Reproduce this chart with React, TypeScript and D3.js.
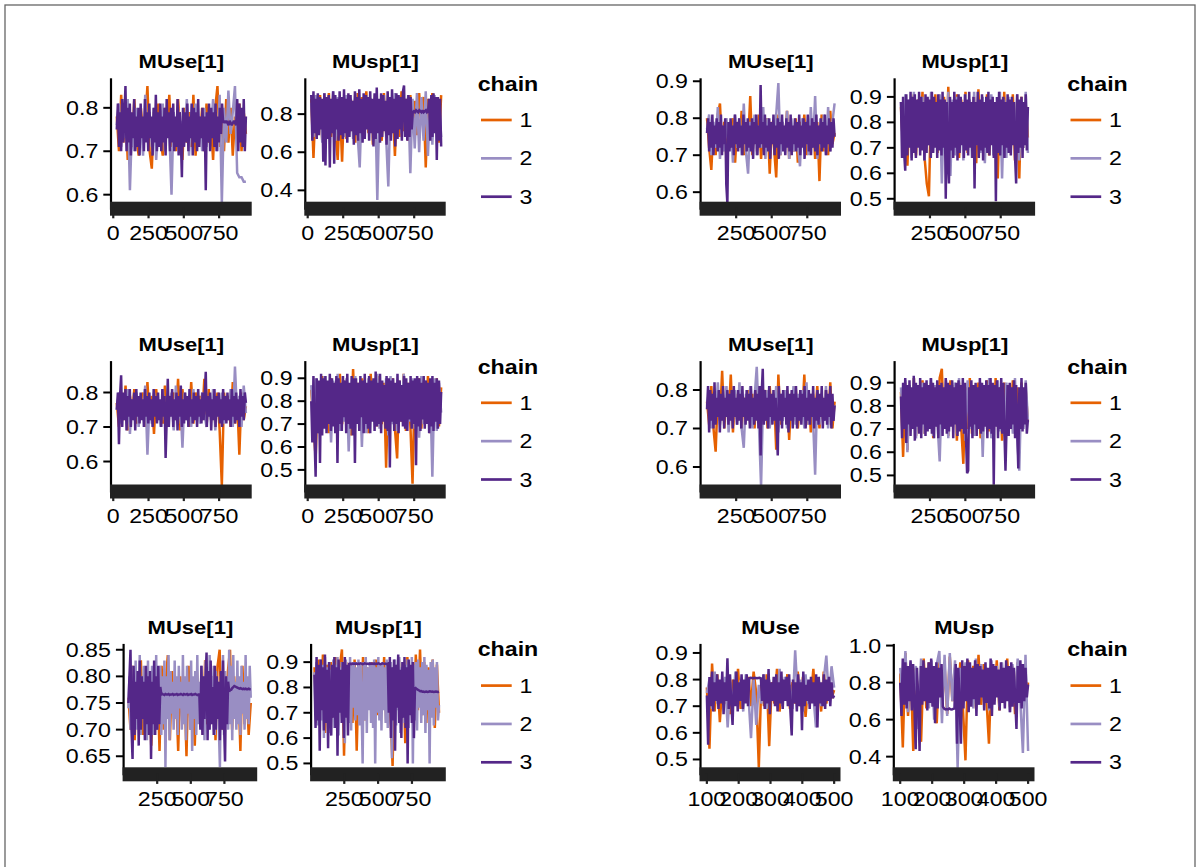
import React from "react";
import * as d3 from "d3";

// ---------------- DATA (trace values ×100) ----------------
const CHAINS = ["1", "2", "3"];
const CHAIN_COLORS = ["#E66101", "#998EC3", "#542788"];

// Group A (top-left)
const A_se_c1 = [78,70,83,72,80,68,79,71,82,73,69,80,74,77,85,70,66,79,72,81,73,69,80,75,83,71,78,70,82,74,68,80,72,79,71,83,69,78,73,80,70,81,72,77,68,80,85,71,79,70,82,72,80,69,78,73,81,70,79,74];
const A_se_c2 = [76,81,71,79,73,82,61,77,70,80,72,78,69,83,74,79,71,80,68,77,73,81,70,78,75,60,79,72,80,70,77,74,82,69,79,72,81,73,78,70,80,71,79,74,82,76,70,83,58,80,72,84,74,79,85,65,64,64,63,63];
const A_se_c3 = [75,81,71,79,70,82,72,78,85,70,80,72,81,69,79,73,82,70,78,71,80,69,81,73,78,70,82,72,79,70,81,73,78,69,80,72,83,70,79,71,81,70,78,72,80,69,82,73,79,70,80,72,81,70,78,71,82,69,79,73,64,80,71,79,72,81,70,78,73,81,69,80,72,79,70,82,71,78,73,80,70,78,61,79,72,81,70,80,73,79,71,81,70,78,72,80,74,81,76.5,77,76.5,77,76.5,76,77,76.5,76,76.5,77,76.5,76,82,70,81,72,80,71,82,70,78];
const A_sp_c1 = [88,57,86,70,90,66,88,74,91,68,89,72,56,85,55,88,67,90,71,87,65,91,73,89,68,92,70,88,64,90,74,87,66,91,70,89,72,86,58,90,68,92,71,88,66,90,73,87,69,91,75,89,52,88,68,91,72,86,65,90];
const A_sp_c2 = [86,68,90,72,88,65,91,70,87,74,92,66,89,71,86,68,90,73,88,67,91,70,52,87,69,90,72,88,66,89,35,86,71,90,68,42,88,73,91,67,89,70,86,72,90,49,88,62,91,60,89,66,92,58,88,64,90,70,87,68];
const A_sp_c3 = [90,66,92,70,88,67,91,69,89,72,88,55,91,53,89,67,90,52,88,70,92,54,90,72,88,66,92,69,89,67,93,70,88,65,91,68,90,71,87,64,92,69,89,66,93,70,88,65,91,67,90,72,89,66,92,70,88,63,91,67,94,70,88,65,91,68,90,71,87,64,92,69,89,66,93,70,88,63,91,67,90,72,89,66,92,95,68,88,66,90,68,89,72,81,81.5,81,82,81.5,81,82,81.5,81,82,81,81.5,82,81,81.5,88,66,90,68,91,70,89,56,89,66,88,63];

// Group B (top-right)
const B_se_c1 = [80,72,66,78,70,81,84,71,79,69,77,73,80,68,79,72,82,70,78,73,86,70,79,71,81,69,78,74,80,65,79,72,64,81,70,78,73,82,69,77,71,80,68,79,74,81,70,78,72,80,69,79,63,81,71,78,70,82,73,76];
const B_se_c2 = [77,81,70,79,72,83,69,78,71,80,73,79,68,81,72,80,70,84,71,65,79,73,81,70,78,72,83,69,80,71,77,73,81,89.5,70,79,72,82,69,80,71,78,73,67,80,71,79,70,83,72,86,69,78,72,81,70,83,71,79,84];
const B_se_c3 = [76,80,71,79,72,81,70,78,73,80,71,79,72,81,70,78,73,80,62,57,79,71,80,72,78,70,81,73,79,71,80,72,78,70,81,73,79,71,80,72,78,71,80,69,79,73,81,70,78,72,89,73,79,70,81,72,78,71,80,69,79,73,81,70,78,72,80,69,79,73,81,71,78,70,80,72,79,71,81,70,78,73,80,71,79,72,81,70,78,72,80,69,79,73,81,71,78,70,80,72,79,71,81,70,78,73,80,71,79,72,81,70,78,73,80,71,79,72,80,75];
const B_sp_c1 = [86,70,90,63,88,72,91,67,89,74,92,66,56,51,88,70,91,68,89,73,90,65,94,69,88,72,91,66,89,70,92,68,88,71,90,64,93,69,87,72,91,67,89,70,88,58,90,66,92,71,89,68,91,65,88,58,90,70,87,74];
const B_sp_c2 = [88,68,91,72,89,66,92,70,87,73,90,65,89,71,92,68,88,70,91,56,87,69,92,59,89,67,90,72,88,65,91,70,89,66,92,71,88,68,90,64,89,72,91,67,88,70,92,58,89,66,90,69,88,72,91,65,89,70,92,68];
const B_sp_c3 = [88,66,90,68,61,91,67,89,70,92,65,90,68,91,66,89,70,92,67,90,69,88,65,91,68,90,71,89,66,92,68,90,70,88,66,91,69,89,67,92,70,89,50,88,66,56,90,69,88,66,92,70,89,65,91,68,90,71,88,66,91,69,89,67,92,70,88,66,90,54,88,71,92,66,89,69,91,65,88,70,90,68,92,67,89,71,90,66,88,49,90,68,92,67,89,71,90,66,88,70,91,68,89,67,90,71,88,66,56,91,68,89,70,90,66,88,71,91,69,86];

// Group C (middle-left)
const C_se_c1 = [77,70,80,72,82,69,79,73,81,71,78,74,80,70,83,72,79,68,81,73,77,71,82,70,79,74,80,72,84,69,81,73,78,70,83,71,80,74,79,72,84,70,81,73,78,71,80,69,53,80,72,79,70,83,71,78,62,80,72,76];
const C_se_c2 = [75,80,71,79,73,81,68,78,72,80,70,79,73,82,62,78,71,80,74,77,70,81,72,79,73,80,69,82,71,78,64,80,72,79,70,81,73,78,71,80,74,70,79,72,81,69,78,73,80,71,79,72,81,70,87.5,73,79,70,82,74];
const C_se_c3 = [75,80,65,79,85,70,80,72,81,69,79,73,81,70,78,72,80,69,81,73,79,71,80,72,78,70,81,73,79,71,80,72,78,70,81,73,79,71,80,72,78,70,81,73,79,61,72,84,70,79,73,81,70,78,72,80,69,79,73,82,70,78,71,80,72,79,70,81,73,78,71,80,72,79,70,81,73,78,71,80,72,79,86,70,79,73,80,69,78,72,81,70,79,73,80,71,78,70,81,72,79,71,80,72,78,70,81,73,79,71,80,72,78,70,81,73,79,72,80,77];
const C_sp_c1 = [85,70,55,88,68,91,72,87,66,90,74,88,67,92,70,89,73,86,65,94,71,88,68,90,72,87,66,92,73,89,69,91,70,88,51,86,72,90,68,55,89,71,92,67,88,70,44,87,73,90,68,89,71,91,66,88,72,90,69,86];
const C_sp_c2 = [87,72,90,66,88,70,91,68,86,62,89,73,92,67,88,71,90,58,87,69,91,72,88,60,89,66,90,76,85,71,92,68,88,72,90,65,91,70,87,67,89,73,92,69,86,71,90,68,88,64,91,70,89,72,87,47,90,67,88,75];
const C_sp_c3 = [80,62,91,64,47,90,66,89,53,92,65,90,68,91,66,89,70,92,67,90,69,88,66,91,53,90,70,88,67,91,73,89,66,92,70,88,68,91,65,90,53,90,70,88,67,91,73,89,66,92,70,88,68,91,66,89,71,90,67,93,69,88,70,92,66,89,71,87,68,91,67,90,51,89,71,90,67,88,70,92,66,89,71,87,69,91,68,90,67,88,72,91,68,89,70,90,52,91,69,90,67,88,72,91,68,89,70,88,66,90,69,91,67,88,71,90,68,89,70,84];

// Group D (middle-right)
const D_se_c1 = [77,71,81,70,64,79,72,85,70,80,73,84,69,79,72,81,70,78,73,80,71,79,70,82,72,78,74,80,70,81,72,79,64.5,84,71,78,73,80,67,79,72,81,70,78,73,84,71,80,69,79,73,81,70,79,72,80,71,82,70,77];
const D_se_c2 = [76,80,70,79,72,82,71,78,73,81,69,79,72,80,71,82,70,65,79,73,81,70,78,86,71,55,79,72,80,70,78,73,81,69,79,72,80,70,78,73,81,71,79,72,80,70,82,71,79,73,58,80,71,79,72,81,70,78,73,76];
const D_se_c3 = [75,81,69,80,72,79,70,82,71,78,73,80,69,79,72,81,70,78,73,80,71,79,72,80,70,81,73,78,71,80,72,79,70,81,73,78,71,80,72,79,70,81,73,78,71,80,72,79,70,81,63,79,85.5,71,80,72,78,70,81,73,79,71,80,72,78,70,63,81,72,79,70,80,73,78,71,81,69,79,72,80,70,79,73,81,70,78,72,80,71,79,73,81,70,78,72,80,71,79,73,81,70,78,72,80,71,79,73,81,70,78,72,80,71,79,73,81,70,79,72,76];
const D_sp_c1 = [86,58,90,61,88,70,92,67,89,73,91,68,87,72,90,66,89,71,92,96,70,88,67,91,72,89,65,90,71,55,88,70,92,68,89,73,90,66,88,72,91,69,89,67,92,71,88,65,90,70,89,72,91,68,88,66,90,71,87,73];
const D_sp_c2 = [88,72,91,60,89,70,92,66,88,73,90,68,87,71,92,67,89,72,56,88,70,91,66,89,73,90,68,92,71,88,65,91,70,89,67,88,72,90,58,89,70,92,66,88,72,91,69,89,67,90,71,88,68,92,66,52,89,70,91,74];
const D_sp_c3 = [84,66,90,70,92,64,89,72,91,67,88,70,93,65,90,71,89,68,92,66,88,72,90,67,91,69,89,70,92,68,90,66,88,71,91,66,89,72,90,67,88,70,92,68,90,69,89,71,91,66,88,72,90,67,91,69,89,70,92,68,90,66,51,52,88,71,91,66,89,72,90,67,88,70,92,68,90,69,89,71,91,66,89,70,92,68,90,46,89,71,91,66,88,70,92,68,90,69,52,71,89,67,90,70,88,72,91,66,89,70,53,88,70,92,69,88,72,90,68,74];

// Group E (bottom-left)
const E_se_c1 = [76,70,82,68,80,72,83,69,79,71,81,67,78,73,80,66,82,70,79,84,68,81,72,77,66,80,71,79,65,82,70,78,67,81,73,79,69,83,71,78,72,80,68,82,85,70,79,72,81,85,70,80,73,79,66,82,71,78,69,75];
const E_se_c2 = [74,80,70,82,68,79,73,83,70,81,72,84,69,80,73,82,70,79,68,83,71,80,74,82,69,81,72,84,70,79,73,82,69,80,71,83,63,80,72,84,68,81,73,79,70,83,72,80,69,82,74,79,70,84,71,80,68,82,73,79,70,83,66,80,72,81,69,84,71,79,73,82,70,80,68,83,72,79,70,84,71,80,73,82,69,81,72,79,70,63,80,72,84,69,81,73,80,70,85,71,82,68,84,72,79,70,83,71,80,69,82,73,79,70,84,72,80,71,82,76];
const E_se_c3 = [75,80,85,70,64.5,82,69,79,72,81,67,83,70,80,72,79,68,82,71,80,69,81,64.5,79,71,83,69,80,70,82,71,78,76.6,76.7,76.6,76.5,76.7,76.6,76.6,76.7,76.5,76.6,76.6,76.7,76.5,76.6,76.6,76.7,76.5,76.6,76.6,76.7,76.6,76.5,76.7,76.6,76.6,76.7,76.5,76.6,76.6,76.7,76.5,76.6,76.6,76.7,76.6,76.5,76.6,76.6,70,82,69,80,72,79,84.5,68,81,70,83,71,78,69,82,70,80,72,79,68,81,70,83,71,64,80,71,79,77.2,77.4,77.5,77.8,78,78.2,78.1,78,77.9,77.8,77.7,77.8,77.7,77.6,77.7,77.6,77.7,77.6,77.6,77.7,77.6,77.6];
const E_sp_c1 = [88,66,91,70,93,62,89,72,90,68,92,64,88,95,53,90,71,87,66,91,55,89,70,92,67,88,72,90,65,91,69,87,73,92,66,89,70,49,88,72,91,68,89,58,92,70,88,67,93,71,95,69,90,66,88,72,91,64,89,70];
const E_sp_c2 = [86,70,90,65,88,73,91,67,89,60,92,71,88,66,90,62,87,72,91,64,89,68,92,61,88,71,90,67,89,58,91,70,88,66,92,63,89,72,90,67,88,69,91,65,89,72,50,90,67,92,62,88,71,90,66,89,64,91,50,88,70,92,67,89,63,90,71,88,66,91,64,89,72,90,52,88,68,91,65,89,71,92,62,88,69,90,66,89,73,91,64,88,70,92,50,89,67,90,63,91,72,88,66,90,69,92,62,89,71,87,50,90,68,91,65,88,72,90,67,73];
const E_sp_c3 = [85,64,92,67,89,55,91,71,88,63,93,66,87,56,90,70,61,89,68,92,64,88,53,91,70,87,66,90,60,92,68,89,61,89.3,89.4,89.2,89.5,89.3,89.4,89.3,89.5,89.2,89.4,89.3,89.5,89.4,89.2,89.3,89.5,89.4,89.3,89.4,89.2,89.5,89.3,89.4,89.3,89.5,89.2,89.4,89.3,89.5,89.4,89.2,89.3,89.5,89.4,89.3,89.4,89.2,89.4,70,92,60,88,67,91,55,89,72,93,66,87,60,90,68,92,64,88,50,91,69,89,66,90,60,80,79.6,79.3,79,78.8,78.5,78.6,78.3,78.4,78.2,78.3,78.4,78.2,78.3,78.5,78.4,78.3,78.4,78.2,78.3,78.4,78.3,78.2,78.3];

// Group F (bottom-right)
const F_se_c1 = [77,54,86,68,82,64,79,71,83,67,80,73,84,69,78,72,81,70,83,75,47,80,70,82,55,79,71,84,68,80,73,82,69,79,71,83,70,81,66,79,72,84,70,80,68,83,71,79,73,76];
const F_se_c2 = [75,80,69,83,71,78,73,81,62,79,70,83,72,80,68,82,74,58,80,63,78,71,82,69,80,73,79,71,84,70,81,72,78,69,91,73,80,68,82,71,79,74,62,81,70,80,89,72,85,77];
const F_se_c3 = [74,55.5,81,70,83,68,79,72,82,69,80,71,83,67,79,72,88,69,82,71,63,80,70,83,68,79,72,82,69,80,71,82,70,80.5,80.7,80.6,80.5,80.7,80.6,80.5,80.6,80.7,80.5,72,82,69,80,71,84,67,79,72,81,70,82,68,79,71,83,69,80,72,81,70,82,68,59,80,71,79,68,82,70,79,61,83,70,78,72,80,69,81,71,79,70,82,62,81,71,79,70,82,69,80,72,81,70,79,73,74];
const F_sp_c1 = [85,45,96,62,90,43,88,70,48,93,66,91,72,87,58,92,68,89,63,94,70,88,65,91,67,38,92,70,89,66,95,68,90,72,47,89,70,92,65,88,71,93,67,89,63,91,69,88,72,80];
const F_sp_c2 = [88,70,97,64,91,68,89,55,93,71,87,66,92,60,90,97,58,95,62,96,70,92,34,88,69,91,72,87,66,93,68,90,71,88,65,92,70,89,67,91,72,88,64,90,69,93,71,42,95,43];
const F_sp_c3 = [80,62,93,68,91,66,89,70,92,65,90,67,44,88,71,43,89,68,92,70,88,65,91,69,93,67,89,58,91,66,88,72,90,67,66,65.5,65.7,65.5,66,65.6,65.5,65.8,66,90,47,88,69,47,92,66,89,70,93,64,91,67,88,71,92,62,90,68,89,72,87,65,91,69,88,66,93,62,90,68,89,72,87,65,91,69,88,66,92,70,89,64,91,67,88,71,55,89,69,92,66,90,70,88,72,79];

// iteration ranges of the traces
const ITER_A = [25, 940];
const ITER_B = [45, 942];
const ITER_E1 = [36, 946];
const ITER_E2 = [30, 950];
const ITER_F = [100, 500];

// tick values
const X_TICKS_0 = [0, 250, 500, 750];
const X_TICKS_250 = [250, 500, 750];
const X_TICKS_F = [100, 200, 300, 400, 500];
const Y_T_678 = [0.6, 0.7, 0.8];
const Y_T_468 = [0.4, 0.6, 0.8];
const Y_T_6789 = [0.6, 0.7, 0.8, 0.9];
const Y_T_56789 = [0.5, 0.6, 0.7, 0.8, 0.9];
const Y_T_E1 = [0.65, 0.7, 0.75, 0.8, 0.85];
const Y_T_F2 = [0.4, 0.6, 0.8, 1.0];

// ---------------- LAYOUT ----------------
const W = 1199;
const H = 867;
const SX = 1.19; // horizontal stretch of glyphs in the reference
const ROW_DY = 282.8;
const COL_DX = 589.5;
const FONT = "'Liberation Sans', Arial, Helvetica, sans-serif";
const TRACE_W = 2.5;

type PanelSpec = {
  title: string;
  x0: number;
  x1: number;
  xDomain: [number, number];
  yDomain: [number, number];
  xTicks: number[];
  yTicks: number[];
  yFmt: string;
  iter: number[];
  chains: number[][];
};

type GroupSpec = { col: number; row: number; panels: PanelSpec[] };

const GROUPS: GroupSpec[] = [
  {
    col: 0, row: 0,
    panels: [
      { title: "MUse[1]", x0: 111, x1: 251.7, xDomain: [-16, 981], yDomain: [0.57, 0.868], xTicks: X_TICKS_0, yTicks: Y_T_678, yFmt: ".1f", iter: ITER_A, chains: [A_se_c1, A_se_c2, A_se_c3] },
      { title: "MUsp[1]", x0: 305.3, x1: 445.7, xDomain: [-17, 972], yDomain: [0.309, 0.988], xTicks: X_TICKS_0, yTicks: Y_T_468, yFmt: ".1f", iter: ITER_A, chains: [A_sp_c1, A_sp_c2, A_sp_c3] },
    ],
  },
  {
    col: 1, row: 0,
    panels: [
      { title: "MUse[1]", x0: 700.6, x1: 841, xDomain: [0, 987], yDomain: [0.558, 0.908], xTicks: X_TICKS_250, yTicks: Y_T_6789, yFmt: ".1f", iter: ITER_B, chains: [B_se_c1, B_se_c2, B_se_c3] },
      { title: "MUsp[1]", x0: 894.6, x1: 1035.1, xDomain: [0, 993], yDomain: [0.465, 0.973], xTicks: X_TICKS_250, yTicks: Y_T_56789, yFmt: ".1f", iter: ITER_B, chains: [B_sp_c1, B_sp_c2, B_sp_c3] },
    ],
  },
  {
    col: 0, row: 1,
    panels: [
      { title: "MUse[1]", x0: 111, x1: 251.7, xDomain: [-16, 981], yDomain: [0.516, 0.891], xTicks: X_TICKS_0, yTicks: Y_T_678, yFmt: ".1f", iter: ITER_A, chains: [C_se_c1, C_se_c2, C_se_c3] },
      { title: "MUsp[1]", x0: 305.3, x1: 445.7, xDomain: [-17, 972], yDomain: [0.41, 0.975], xTicks: X_TICKS_0, yTicks: Y_T_56789, yFmt: ".1f", iter: ITER_A, chains: [C_sp_c1, C_sp_c2, C_sp_c3] },
    ],
  },
  {
    col: 1, row: 1,
    panels: [
      { title: "MUse[1]", x0: 700.6, x1: 841, xDomain: [0, 987], yDomain: [0.539, 0.875], xTicks: X_TICKS_250, yTicks: Y_T_678, yFmt: ".1f", iter: ITER_B, chains: [D_se_c1, D_se_c2, D_se_c3] },
      { title: "MUsp[1]", x0: 894.6, x1: 1035.1, xDomain: [0, 993], yDomain: [0.435, 0.993], xTicks: X_TICKS_250, yTicks: Y_T_56789, yFmt: ".1f", iter: ITER_B, chains: [D_sp_c1, D_sp_c2, D_sp_c3] },
    ],
  },
  {
    col: 0, row: 2,
    panels: [
      { title: "MUse[1]", x0: 123.6, x1: 257.2, xDomain: [0, 994], yDomain: [0.618, 0.861], xTicks: X_TICKS_250, yTicks: Y_T_E1, yFmt: ".2f", iter: ITER_E1, chains: [E_se_c1, E_se_c2, E_se_c3] },
      { title: "MUsp[1]", x0: 311.1, x1: 445.8, xDomain: [5, 1000], yDomain: [0.461, 0.972], xTicks: X_TICKS_250, yTicks: Y_T_56789, yFmt: ".1f", iter: ITER_E2, chains: [E_sp_c1, E_sp_c2, E_sp_c3] },
    ],
  },
  {
    col: 1, row: 2,
    panels: [
      { title: "MUse", x0: 700.5, x1: 840.5, xDomain: [80, 520], yDomain: [0.448, 0.934], xTicks: X_TICKS_F, yTicks: Y_T_56789, yFmt: ".1f", iter: ITER_F, chains: [F_se_c1, F_se_c2, F_se_c3] },
      { title: "MUsp", x0: 893.8, x1: 1034.5, xDomain: [80, 520], yDomain: [0.31, 1.009], xTicks: X_TICKS_F, yTicks: Y_T_F2, yFmt: ".1f", iter: ITER_F, chains: [F_sp_c1, F_sp_c2, F_sp_c3] },
    ],
  },
];

function Txt(props: { x: number; y: number; anchor?: string; size: number; weight?: string | number; children: React.ReactNode }) {
  const { x, y, anchor = "start", size, weight = "normal", children } = props;
  return (
    <text
      transform={`translate(${x},${y}) scale(${SX},1)`}
      textAnchor={anchor as any}
      fontSize={size}
      fontWeight={weight as any}
      fontFamily={FONT}
      fill="#000"
    >
      {children}
    </text>
  );
}

function Panel({ spec, row, id }: { spec: PanelSpec; row: number; id: string }) {
  const dy = row * ROW_DY;
  const top = 78.3 + dy;
  const barTop = 201.7 + dy;
  const bottom = barTop + 6;
  const x = d3.scaleLinear().domain(spec.xDomain).range([spec.x0, spec.x1]);
  const y = d3.scaleLinear().domain(spec.yDomain).range([bottom, top]);
  const fmt = d3.format(spec.yFmt);
  const [i0, i1] = spec.iter;
  const path = (vals: number[]) => {
    const n = vals.length;
    return d3
      .line<number>()
      .x((_, i) => x(i0 + ((i1 - i0) * i) / (n - 1)))
      .y((v) => y(v / 100))(vals) as string;
  };
  return (
    <g>
      <defs>
        <clipPath id={id}>
          <rect x={spec.x0} y={top} width={spec.x1 - spec.x0} height={bottom - top} />
        </clipPath>
      </defs>
      <Txt x={(spec.x0 + spec.x1) / 2} y={68.3 + dy} anchor="middle" size={18.5} weight="bold">
        {spec.title}
      </Txt>
      <g clipPath={`url(#${id})`}>
        {spec.chains.map((c, k) => (
          <path key={k} d={path(c)} fill="none" stroke={CHAIN_COLORS[k]} strokeWidth={TRACE_W} strokeLinejoin="miter" strokeMiterlimit={2} />
        ))}
      </g>
      {/* y axis */}
      <line x1={spec.x0} x2={spec.x0} y1={top} y2={barTop + 8} stroke="#000" strokeWidth={2.2} />
      {spec.yTicks.map((t) => (
        <g key={t}>
          <line x1={spec.x0 - 7.7} x2={spec.x0} y1={y(t)} y2={y(t)} stroke="#000" strokeWidth={2} />
          <Txt x={spec.x0 - 12.7} y={y(t) + 7} anchor="end" size={19.5}>
            {fmt(t)}
          </Txt>
        </g>
      ))}
      {/* x axis bar */}
      <rect x={spec.x0 - 1} y={barTop} width={spec.x1 - spec.x0 + 1} height={14} fill="#222" />
      {spec.xTicks.map((t) => (
        <g key={t}>
          <line x1={x(t)} x2={x(t)} y1={barTop + 6} y2={barTop + 16.6} stroke="#222" strokeWidth={2.2} />
          <Txt x={x(t)} y={barTop + 38.5} anchor="middle" size={19.5}>
            {String(t)}
          </Txt>
        </g>
      ))}
    </g>
  );
}

function Legend({ col, row }: { col: number; row: number }) {
  const dx = col * COL_DX;
  const dy = row * ROW_DY;
  return (
    <g>
      <Txt x={477.7 + dx} y={90.7 + dy} size={19.5} weight="bold">
        chain
      </Txt>
      {CHAINS.map((c, k) => {
        const ky = 120 + dy + k * 38.35;
        return (
          <g key={c}>
            <line x1={481 + dx} x2={511.7 + dx} y1={ky} y2={ky} stroke={CHAIN_COLORS[k]} strokeWidth={2.7} />
            <Txt x={519.5 + dx} y={ky + 7} size={19.5}>
              {c}
            </Txt>
          </g>
        );
      })}
    </g>
  );
}

export default function App() {
  return (
    <svg width={W} height={H} style={{ position: "absolute", left: 0, top: 0, display: "block" }}>
      <rect x={0} y={0} width={W} height={H} fill="#fff" />
      <rect x={5} y={5} width={1190} height={900} fill="none" stroke="#666" strokeWidth={1.3} />
      {GROUPS.map((g, gi) => (
        <g key={gi}>
          {g.panels.map((p, pi) => (
            <Panel key={pi} spec={p} row={g.row} id={`clip-${gi}-${pi}`} />
          ))}
          <Legend col={g.col} row={g.row} />
        </g>
      ))}
    </svg>
  );
}
